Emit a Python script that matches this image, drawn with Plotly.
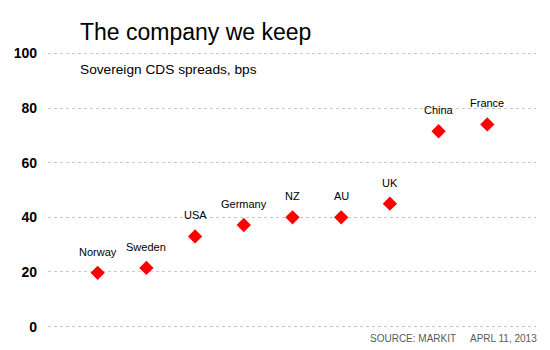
import plotly.graph_objects as go

countries = ["Norway", "Sweden", "USA", "Germany", "NZ", "AU", "UK", "China", "France"]
spreads = [19.7, 21.5, 33, 37.2, 40, 40, 45, 71.5, 74]
y_ticks = [0, 20, 40, 60, 80, 100]

FONT = "Arial, Liberation Sans, Helvetica, sans-serif"

fig = go.Figure()
fig.add_trace(go.Scatter(
    x=list(range(len(countries))), y=spreads, mode="markers",
    marker=dict(symbol="diamond", size=11, color="#ff0000", line=dict(width=0)),
    hoverinfo="skip", showlegend=False,
))

annotations = []
for i, (c, v) in enumerate(zip(countries, spreads)):
    annotations.append(dict(x=i, y=v, xref="x", yref="y", text=c, showarrow=False,
                            yshift=21, font=dict(family=FONT, size=11, color="#000000")))

annotations += [
    dict(x=0, y=1.073, xref="paper", yref="paper", xanchor="left", yanchor="middle",
         xshift=30, text="The company we keep", showarrow=False,
         font=dict(family=FONT, size=23, color="#000000")),
    dict(x=0, y=0.936, xref="paper", yref="paper", xanchor="left", yanchor="middle",
         xshift=30, text="Sovereign CDS spreads, bps", showarrow=False,
         font=dict(family=FONT, size=13.7, color="#000000")),
    dict(x=1, y=-0.037, xref="paper", yref="paper", xanchor="right", yanchor="middle",
         xshift=3, text="SOURCE: MARKIT&nbsp;&nbsp;&nbsp;&nbsp;&nbsp;APRL 11, 2013", showarrow=False,
         font=dict(family=FONT, size=10, color="#5a5a5a")),
]

fig.update_layout(
    width=550, height=350,
    margin=dict(l=48, r=14, t=52, b=22),
    paper_bgcolor="white", plot_bgcolor="white",
    xaxis=dict(range=[-1.02, 9], showgrid=False, showticklabels=False, zeroline=False,
               showline=False, ticks=""),
    yaxis=dict(range=[-0.5, 100.5], tickvals=y_ticks, showgrid=True, gridcolor="#c8c8c8",
               griddash="3px,3px", gridwidth=1, zeroline=False, showline=False,
               tickfont=dict(family=FONT, size=14, color="#000000", weight="bold"),
               ticklabelstandoff=10),
    annotations=annotations,
)

fig.write_html("out.html")
